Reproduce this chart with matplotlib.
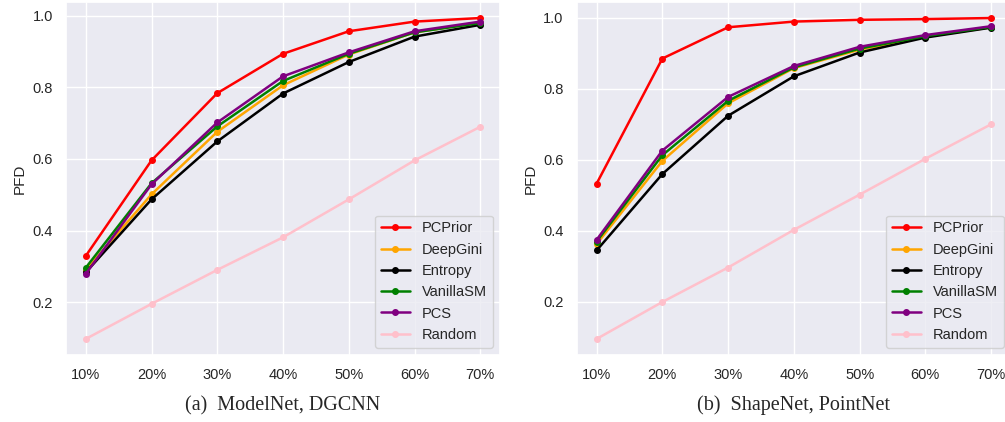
import matplotlib
matplotlib.use("Agg")
import matplotlib.pyplot as plt
import seaborn as sns

# x axis: share of the test set that has been prioritized
ratios = ["10%", "20%", "30%", "40%", "50%", "60%", "70%"]
methods = ["PCPrior", "DeepGini", "Entropy", "VanillaSM", "PCS", "Random"]
colors = ["red", "orange", "black", "green", "purple", "pink"]

# (a) ModelNet, DGCNN
modelnet_pcprior = [0.329, 0.596, 0.784, 0.894, 0.957, 0.984, 0.994]
modelnet_deepgini = [0.290, 0.501, 0.676, 0.806, 0.892, 0.954, 0.981]
modelnet_entropy = [0.283, 0.487, 0.649, 0.783, 0.871, 0.942, 0.975]
modelnet_vanillasm = [0.296, 0.532, 0.691, 0.818, 0.894, 0.954, 0.980]
modelnet_pcs = [0.279, 0.529, 0.702, 0.831, 0.898, 0.957, 0.984]
modelnet_random = [0.097, 0.195, 0.290, 0.381, 0.487, 0.596, 0.690]

# (b) ShapeNet, PointNet
shapenet_pcprior = [0.533, 0.885, 0.973, 0.989, 0.994, 0.996, 0.999]
shapenet_deepgini = [0.363, 0.597, 0.759, 0.858, 0.910, 0.946, 0.973]
shapenet_entropy = [0.345, 0.560, 0.724, 0.835, 0.902, 0.944, 0.972]
shapenet_vanillasm = [0.370, 0.613, 0.766, 0.860, 0.913, 0.948, 0.974]
shapenet_pcs = [0.375, 0.626, 0.777, 0.864, 0.918, 0.951, 0.976]
shapenet_random = [0.096, 0.200, 0.297, 0.403, 0.502, 0.603, 0.700]

modelnet = [modelnet_pcprior, modelnet_deepgini, modelnet_entropy,
            modelnet_vanillasm, modelnet_pcs, modelnet_random]
shapenet = [shapenet_pcprior, shapenet_deepgini, shapenet_entropy,
            shapenet_vanillasm, shapenet_pcs, shapenet_random]

sns.set_theme(style="darkgrid")
plt.rcParams["font.family"] = ["Liberation Sans", "DejaVu Sans"]


def draw_panel(ax, series, caption):
    for name, values, color in zip(methods, series, colors):
        ax.plot(ratios, values, marker="o", markersize=4, linewidth=1.8,
                color=color, label=name)
    ax.set_ylabel("PFD", fontsize=11)
    ax.set_yticks([0.2, 0.4, 0.6, 0.8, 1.0])
    ax.tick_params(labelsize=10.5)
    ax.legend(loc="lower right", fontsize=10.5)
    # subfigure caption under the axis
    ax.text(0.5, -0.143, caption, transform=ax.transAxes, ha="center",
            va="center", fontsize=14.5, family="Liberation Serif")


fig = plt.figure(figsize=(10.05, 4.22), dpi=100)
ax1 = fig.add_axes([0.0657, 0.1588, 0.4318, 0.8365])
ax2 = fig.add_axes([0.574, 0.1588, 0.4318, 0.8365])

draw_panel(ax1, modelnet, "(a)  ModelNet, DGCNN")
draw_panel(ax2, shapenet, "(b)  ShapeNet, PointNet")

fig.savefig("out.png", dpi=100)
